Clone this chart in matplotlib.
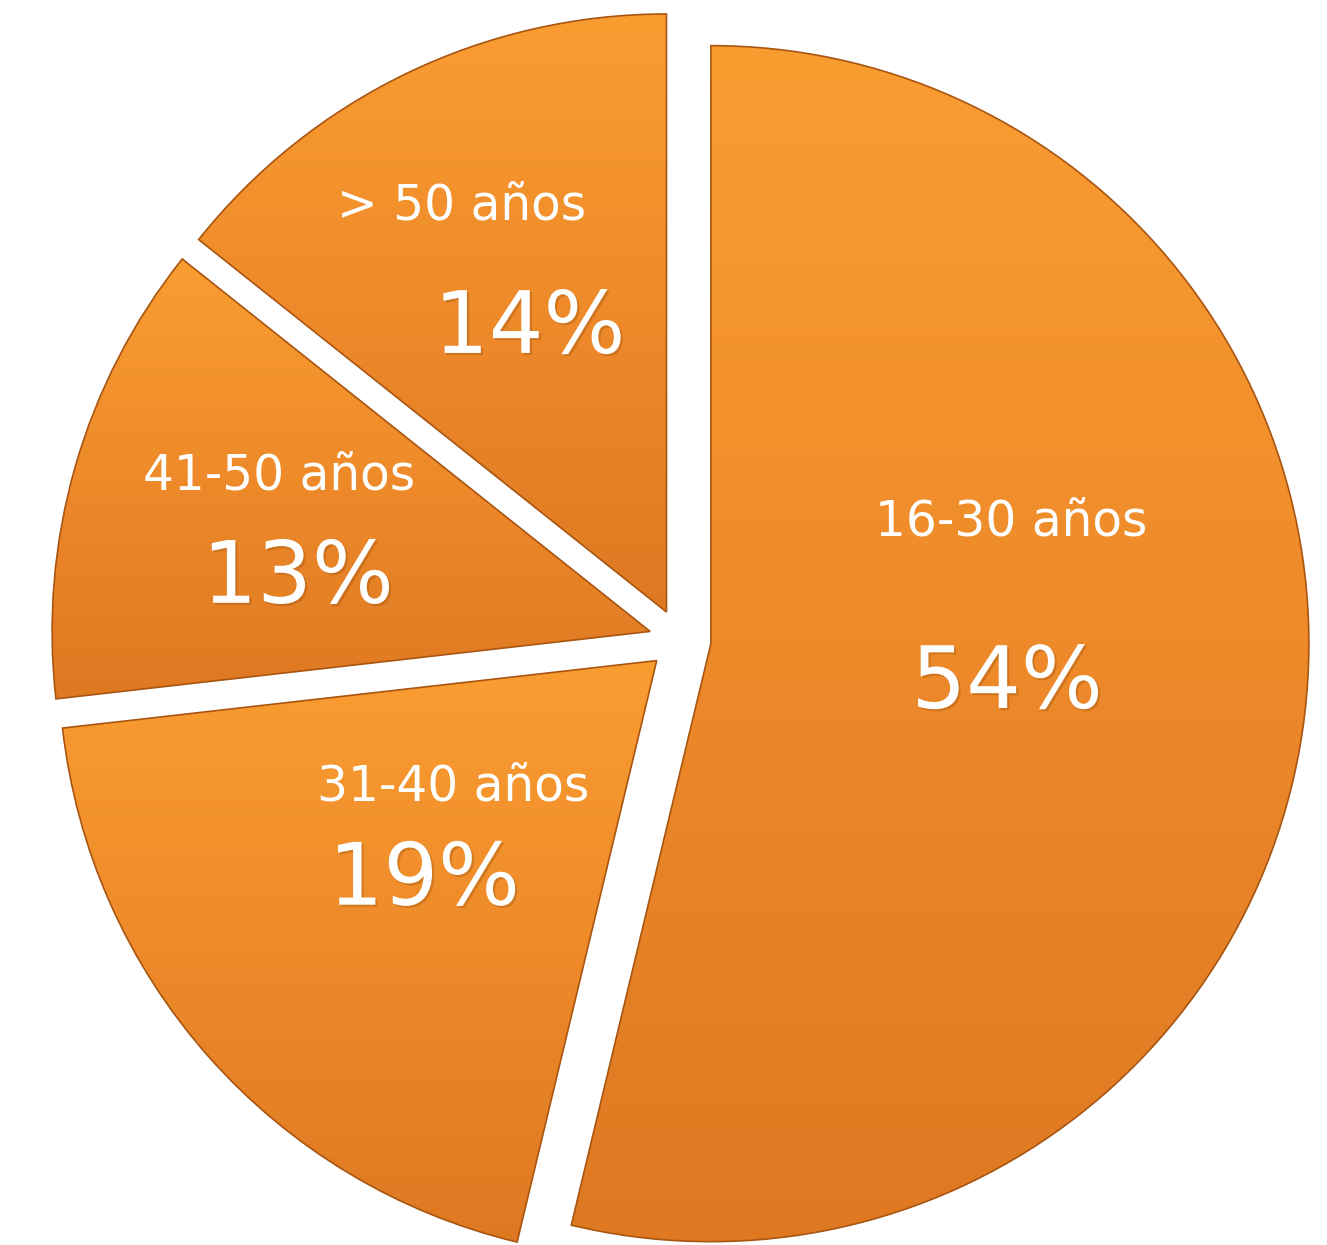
import numpy as np
import matplotlib
matplotlib.use("Agg")
import matplotlib.pyplot as plt
from matplotlib.colors import LinearSegmentedColormap
import matplotlib.patheffects as pe

# ---- data ----
categories = ["16-30 años", "31-40 años", "41-50 años", "> 50 años"]
values = [53.75, 19.45, 12.5, 14.3]
pct_labels = ["54%", "19%", "13%", "14%"]

# ---- layout (label placement relative to slice tip, in radius units) ----
pct_r = [0.50, 0.536, 0.595, 0.525]
pct_dang = [-1.1, 2.0, 7.6, 0.1]
name_off = [(4, 163), (29, 95), (-19, 104), (-68, 124)]  # pixels
R_PX = 598.0
EXPLODE = 0.052

W, H = 1327, 1245
fig = plt.figure(figsize=(W / 100, H / 100), dpi=100)
ax = fig.add_axes([0, 0, 1, 1])
cx, cy = 680, 640

wedges, _ = ax.pie(values, startangle=90, counterclock=False, radius=1.0,
                   explode=[EXPLODE] * len(values),
                   wedgeprops=dict(edgecolor="#A85512", linewidth=1.2),
                   frame=False)
ax.set_xlim(-cx / R_PX, (W - cx) / R_PX)
ax.set_ylim(-(H - cy) / R_PX, cy / R_PX)
ax.set_aspect("auto")
ax.axis("off")

cmap = LinearSegmentedColormap.from_list("og", ["#DE7922", "#EE8A2A", "#FA9D31"])
grad = np.linspace(0, 1, 256).reshape(-1, 1)
for w in wedges:
    w.set_facecolor("none")
    ext = w.get_path().get_extents()
    im = ax.imshow(grad, cmap=cmap, origin="lower", aspect="auto",
                   extent=[ext.x0, ext.x1, ext.y0, ext.y1], zorder=1)
    im.set_clip_path(w)
    w.set_zorder(2)
ax.set_xlim(-cx / R_PX, (W - cx) / R_PX)
ax.set_ylim(-(H - cy) / R_PX, cy / R_PX)

for i, w in enumerate(wedges):
    mid = np.deg2rad((w.theta1 + w.theta2) / 2)
    tx, ty = w.center
    a = mid + np.deg2rad(pct_dang[i])
    px = tx + pct_r[i] * np.cos(a)
    py = ty + pct_r[i] * np.sin(a)
    ax.text(px, py, pct_labels[i], color="white", fontsize=62,
            ha="center", va="center", zorder=5,
            path_effects=[pe.withSimplePatchShadow(offset=(1.5, -1.5), shadow_rgbFace="#7a3a00", alpha=0.25)])
    nx = px + name_off[i][0] / R_PX
    ny = py + name_off[i][1] / R_PX
    ax.text(nx, ny, categories[i], color="white", fontsize=35,
            ha="center", va="center", zorder=5)

fig.savefig("out.png", dpi=100, facecolor="white")
